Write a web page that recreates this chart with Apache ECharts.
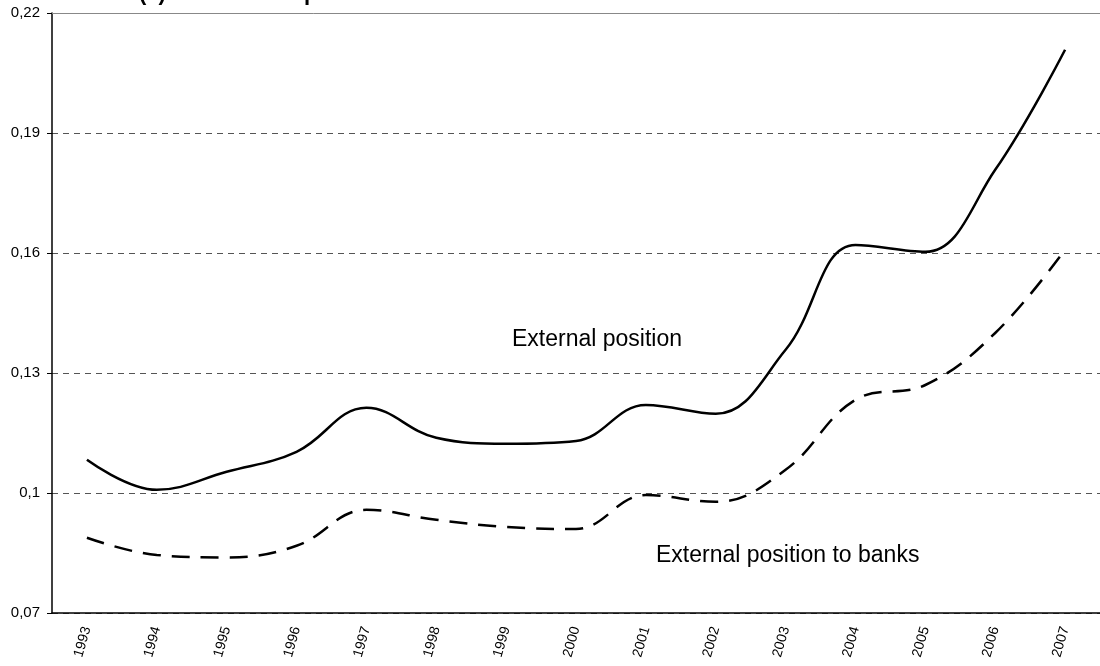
<!DOCTYPE html>
<html>
<head>
<meta charset="utf-8">
<script src="https://cdn.jsdelivr.net/npm/echarts@6/dist/echarts.min.js"></script>
<style>
  html, body { margin: 0; padding: 0; background: #fff; }
  #chart { width: 1100px; height: 666px; }
</style>
</head>
<body>
<div id="chart"></div>
<script>
// 数据
const years = ['1993', '1994', '1995', '1996', '1997', '1998', '1999', '2000',
               '2001', '2002', '2003', '2004', '2005', '2006', '2007'];
const externalPosition = [0.1083, 0.1008, 0.1053, 0.1103, 0.1213, 0.1138, 0.1123, 0.1130,
                          0.1220, 0.1198, 0.1358, 0.1620, 0.1603, 0.1808, 0.2108];
const externalToBanks = [0.0888, 0.0845, 0.0839, 0.0868, 0.0958, 0.0933, 0.0915, 0.0910,
                         0.0995, 0.0978, 0.1058, 0.1233, 0.1270, 0.1400, 0.1608];
const yTicks = [0.07, 0.10, 0.13, 0.16, 0.19, 0.22];

const chart = echarts.init(document.getElementById('chart'));
const fmt = v => String(+v.toFixed(2)).replace('.', ',');

chart.setOption({
    animation: false,
    title: {
        text: '(a) Net external position',
        left: 134,
        top: -22,
        textStyle: { fontFamily: 'Liberation Sans', fontSize: 22, fontWeight: 'bold', color: '#000' }
    },
    grid: { left: 52, right: -1, top: 13, bottom: 53 },
    xAxis: [
        {
            type: 'category',
            data: years,
            boundaryGap: true,
            axisLine: { lineStyle: { color: '#000', width: 1.5 } },
            axisTick: { length: 5, lineStyle: { color: '#000' } },
            axisLabel: {
                rotate: 74, margin: 14, color: '#000',
                fontFamily: 'Liberation Sans', fontSize: 14
            }
        },
        {
            // 顶部灰色边线
            type: 'category',
            data: years,
            position: 'top',
            axisLine: { lineStyle: { color: '#888', width: 1 } },
            axisTick: { show: false },
            axisLabel: { show: false }
        }
    ],
    yAxis: {
        type: 'value',
        min: yTicks[0],
        max: yTicks[yTicks.length - 1],
        interval: 0.03,
        axisLine: { show: true, lineStyle: { color: '#000', width: 1.5 } },
        axisTick: { show: true, length: 5, lineStyle: { color: '#000' } },
        axisLabel: {
            formatter: fmt, color: '#000', margin: 12,
            fontFamily: 'Liberation Sans', fontSize: 15
        },
        splitLine: { lineStyle: { color: '#555', type: [6, 5], width: 1 } }
    },
    graphic: [
        { type: 'text', left: 512, top: 328,
          style: { text: 'External position', fill: '#000', font: '23px "Liberation Sans"' } },
        { type: 'text', left: 656, top: 544,
          style: { text: 'External position to banks', fill: '#000', font: '23px "Liberation Sans"' } }
    ],
    series: [
        {
            name: 'External position',
            type: 'line',
            data: externalPosition,
            smooth: 0.4,
            showSymbol: false,
            lineStyle: { color: '#000', width: 2.5 }
        },
        {
            name: 'External position to banks',
            type: 'line',
            data: externalToBanks,
            smooth: 0.4,
            showSymbol: false,
            lineStyle: { color: '#000', width: 2.5, type: [18, 11] }
        }
    ]
});
</script>
</body>
</html>
